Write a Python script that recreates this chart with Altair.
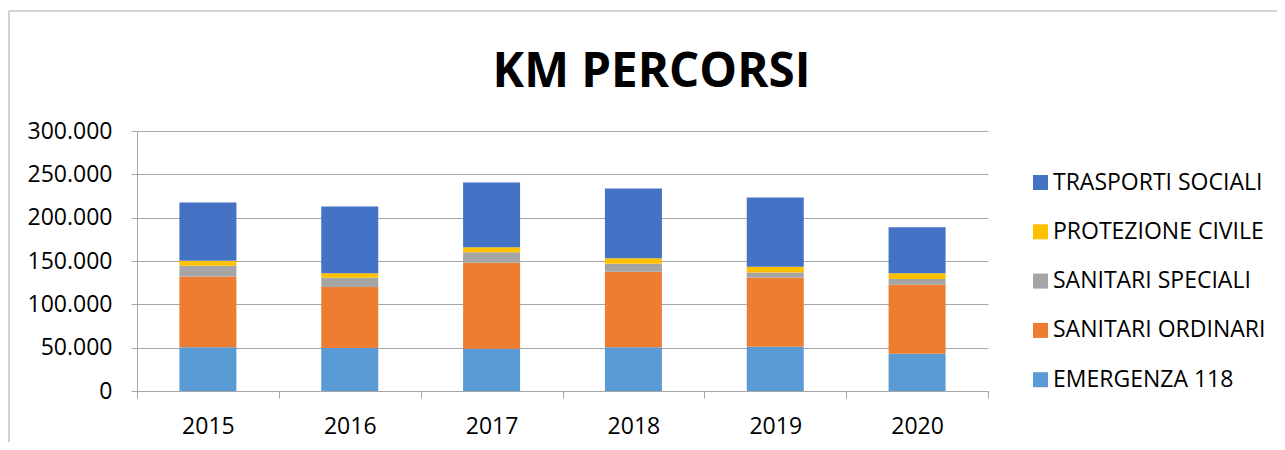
import altair as alt
import pandas as pd

years = ["2015", "2016", "2017", "2018", "2019", "2020"]
series = ["TRASPORTI SOCIALI", "PROTEZIONE CIVILE", "SANITARI SPECIALI", "SANITARI ORDINARI", "EMERGENZA 118"]
colors = ["#4472C4", "#FFC000", "#A5A5A5", "#ED7D31", "#5B9BD5"]

emergenza = [50500, 49500, 48800, 50500, 51100, 43000]
ordinari = [81700, 70400, 99100, 87000, 79500, 79500]
speciali = [12200, 10700, 12300, 9200, 6200, 6600]
protezione = [5800, 5400, 5800, 6600, 6500, 6900]
sociali = [67200, 76800, 74500, 80300, 79900, 53000]

stack_values = {
    "EMERGENZA 118": emergenza,
    "SANITARI ORDINARI": ordinari,
    "SANITARI SPECIALI": speciali,
    "PROTEZIONE CIVILE": protezione,
    "TRASPORTI SOCIALI": sociali,
}

rows = []
for order, (name, vals) in enumerate(stack_values.items()):
    for y, v in zip(years, vals):
        rows.append({"anno": y, "serie": name, "km": v, "ordine": order})
df = pd.DataFrame(rows)

FONT = "Open Sans"
W, H = 851, 260

bars = alt.Chart(df).mark_bar(size=57).encode(
    x=alt.X("anno:N", title=None, sort=years,
            scale=alt.Scale(paddingInner=0, paddingOuter=0),
            axis=alt.Axis(labelAngle=0, tickBand="extent", tickSize=7, labelPadding=17,
                          domainColor="#a6a6a6", tickColor="#a6a6a6", labelFontSize=23,
                          labelFont=FONT, labelColor="#000000", grid=False)),
    y=alt.Y("km:Q", title=None, stack="zero",
            scale=alt.Scale(domain=[0, 300000], nice=False),
            axis=alt.Axis(values=[0, 50000, 100000, 150000, 200000, 250000, 300000],
                          labelExpr="replace(format(datum.value, ','), ',', '.')",
                          tickSize=6, labelPadding=19, domainColor="#a6a6a6",
                          tickColor="#a6a6a6", gridColor="#a6a6a6", grid=True,
                          labelFontSize=23, labelFont=FONT, labelColor="#000000")),
    color=alt.Color("serie:N", scale=alt.Scale(domain=series, range=colors),
                    legend=alt.Legend(title=None, orient="none", legendX=892, legendY=40,
                                      symbolType="square", symbolSize=225, symbolStrokeWidth=0,
                                      labelFontSize=23, labelFont=FONT, labelColor="#000000",
                                      labelOffset=1, rowPadding=25.3, labelLimit=400)),
    order=alt.Order("ordine:Q", sort="ascending"),
)

frame = pd.DataFrame({"k": [0]})
left_border = alt.Chart(frame).mark_rule(color="#a6a6a6", strokeWidth=1).encode(
    x=alt.value(-128), y=alt.value(-120), y2=alt.value(320))
top_border = alt.Chart(frame).mark_rule(color="#a6a6a6", strokeWidth=1).encode(
    x=alt.value(-128), x2=alt.value(1200), y=alt.value(-120))

chart = alt.layer(left_border, top_border, bars).properties(
    width=W, height=H,
    title=alt.TitleParams("KM PERCORSI", fontSize=47.5, font=FONT, fontWeight="bold",
                          color="#000000", anchor="middle", frame="group", dx=89,
                          baseline="alphabetic", offset=-124),
    padding={"left": 129, "top": 123, "right": 289, "bottom": 51},
    autosize=alt.AutoSizeParams(type="none"),
).configure_view(stroke=None)

chart.save("out.html", embed_options={"renderer": "svg", "actions": False})
